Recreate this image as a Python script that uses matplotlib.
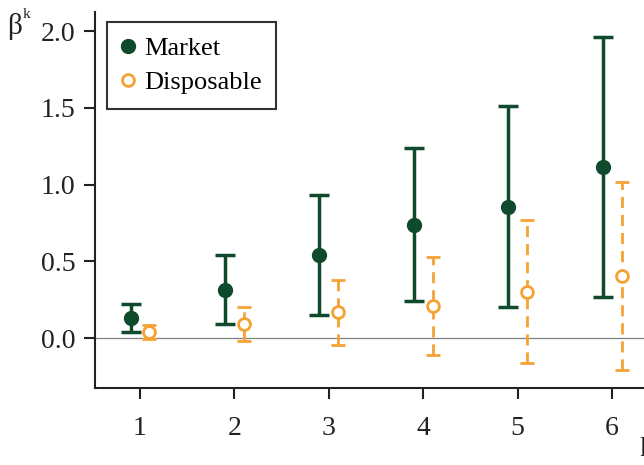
import matplotlib
matplotlib.use("Agg")
import matplotlib.pyplot as plt
import numpy as np

k = [1, 2, 3, 4, 5, 6]
market = [0.13, 0.31, 0.54, 0.735, 0.853, 1.117]
market_lo = [0.041, 0.09, 0.153, 0.24, 0.199, 0.27]
market_hi = [0.22, 0.54, 0.93, 1.236, 1.515, 1.964]
disp = [0.04, 0.092, 0.168, 0.208, 0.303, 0.405]
disp_lo = [-0.005, -0.02, -0.045, -0.114, -0.162, -0.207]
disp_hi = [0.086, 0.20, 0.38, 0.527, 0.77, 1.02]

green = "#0f4a2d"
orange = "#f5a234"
plt.rcParams['font.family'] = ['Liberation Serif', 'DejaVu Serif']

fig = plt.figure(figsize=(6.44, 4.65), dpi=100)
ax = fig.add_axes([0.1475, 0.1656, 0.891, 0.808])

kx = np.array(k, dtype=float)
m = np.array(market); d = np.array(disp)
ax.axhline(0, color="#808080", lw=0.9, zorder=1)

e1 = ax.errorbar(kx - 0.1, m, yerr=[m - np.array(market_lo), np.array(market_hi) - m],
                 fmt='o', color=green, ms=10, lw=2.5, capsize=7, capthick=2.5,
                 ecolor=green, label="Market", zorder=3)
e2 = ax.errorbar(kx + 0.1, d, yerr=[d - np.array(disp_lo), np.array(disp_hi) - d],
                 fmt='o', color=orange, mfc="white", mec=orange, mew=2, ms=8.5,
                 lw=2, capsize=5, capthick=2, ecolor=orange, label="Disposable", zorder=3)
e2[2][0].set_linestyle((0, (4, 2.5)))

ax.set_xlim(0.523, 6.6)
ax.set_ylim(-0.326, 2.124)
ax.set_xticks(k)
ax.set_yticks([0.0, 0.5, 1.0, 1.5, 2.0])
ax.set_yticklabels(["0.0", "0.5", "1.0", "1.5", "2.0"])
for s in ["top", "right"]:
    ax.spines[s].set_visible(False)
for s in ["left", "bottom"]:
    ax.spines[s].set_linewidth(1.5)
    ax.spines[s].set_color("#222222")
ax.tick_params(direction="out", length=8, width=1.5, labelsize=20, colors="#222222")
ax.tick_params(axis="x", pad=12)
ax.tick_params(axis="y", pad=6)

leg = ax.legend(handles=[e1[0], e2[0]], labels=["Market", "Disposable"], loc="upper left",
                bbox_to_anchor=(0.021, 0.974), borderaxespad=0, fontsize=19, frameon=True,
                fancybox=False, edgecolor="black", handlelength=0.5, handletextpad=0.35,
                borderpad=0.55, labelspacing=0.4)
leg.get_frame().set_linewidth(1.5)

fig.text(7/644, 1 - 27/465, "β", fontsize=21, ha="left", va="center", color="#222222")
fig.text(23/644, 1 - 15/465, "k", fontsize=11, ha="left", va="center", color="#222222")
fig.text(639/644, 1 - 449/465, "k", fontsize=20, ha="left", va="center", color="#222222")

fig.savefig("out.png", dpi=100)
